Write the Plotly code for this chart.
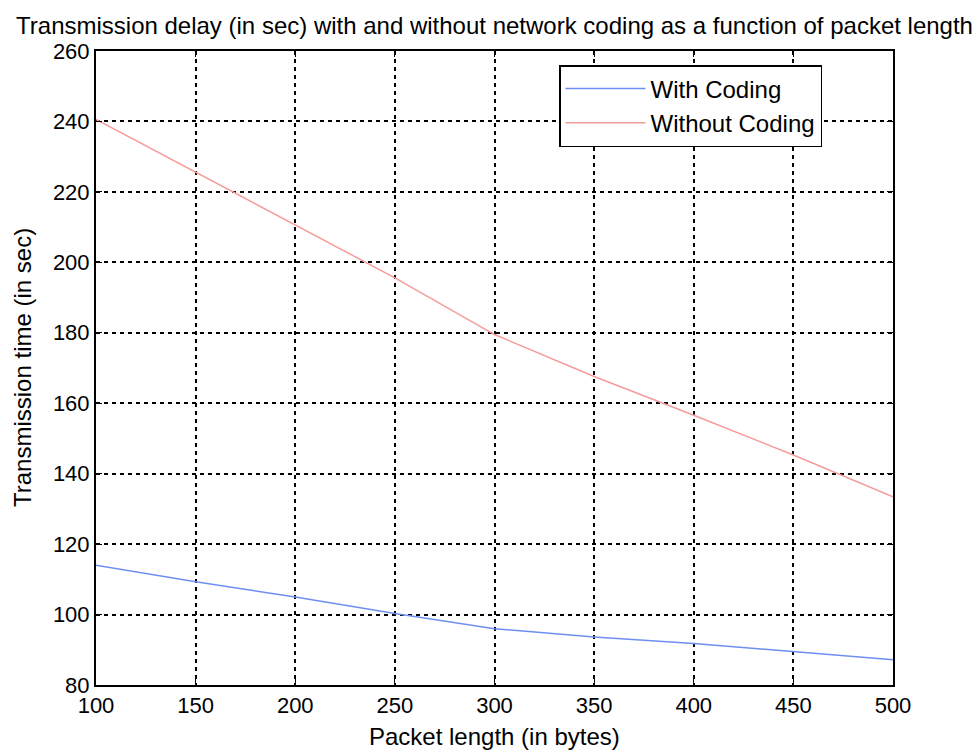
import plotly.graph_objects as go

packet_length = [100, 150, 200, 250, 300, 350, 400, 450, 500]
with_coding = [114.0, 109.3, 105.0, 100.3, 96.0, 93.6, 91.8, 89.4, 87.2]
without_coding = [240.6, 225.6, 210.6, 195.6, 179.5, 167.6, 156.6, 145.3, 133.4]

x_ticks = [100, 150, 200, 250, 300, 350, 400, 450, 500]
y_ticks = [80, 100, 120, 140, 160, 180, 200, 220, 240, 260]

FONT = "Liberation Sans, Arial, sans-serif"

fig = go.Figure()
fig.add_trace(go.Scatter(x=packet_length, y=with_coding, mode="lines", name="With Coding",
                         line=dict(color="#6e8ff0", width=1.5)))
fig.add_trace(go.Scatter(x=packet_length, y=without_coding, mode="lines", name="Without Coding",
                         line=dict(color="#f59b9b", width=1.5)))

axis_common = dict(
    showline=True, linecolor="black", linewidth=2, mirror="ticks",
    ticks="inside", ticklen=6, tickcolor="black",
    showgrid=True, gridcolor="black", griddash="4px,4px", gridwidth=1.5,
    zeroline=False, automargin=False,
    tickfont=dict(family=FONT, size=22, color="black"),
)

fig.update_layout(
    width=975, height=751,
    margin=dict(l=96, r=82, t=51, b=66),
    paper_bgcolor="white", plot_bgcolor="white",
    title=dict(text="Transmission delay (in sec) with and without network coding as a function of packet length",
               font=dict(family=FONT, size=24, color="black"),
               x=0.5, xanchor="center", xref="paper", y=1 - 17 / 751, yanchor="top"),
    xaxis=dict(axis_common, range=[100, 500], tickvals=x_ticks),
    yaxis=dict(axis_common, range=[80, 260], tickvals=y_ticks),
    annotations=[
        dict(text="Transmission time (in sec)", xref="paper", yref="paper",
             x=(22 - 96) / 797, y=0.5, xanchor="center", yanchor="middle",
             textangle=-90, showarrow=False,
             font=dict(family=FONT, size=24, color="black")),
        dict(text="Packet length (in bytes)", xref="paper", yref="paper",
             x=0.5, y=-(736 - 685) / 634, xanchor="center", yanchor="middle",
             showarrow=False, font=dict(family=FONT, size=24, color="black")),
    ],
    legend=dict(x=(559 - 96) / 797, y=1 - (65 - 51) / 634, xanchor="left", yanchor="top",
                bgcolor="white", bordercolor="black", borderwidth=1.5,
                font=dict(family=FONT, size=24, color="black"),
                itemwidth=80, tracegroupgap=0),
    showlegend=True,
)

fig.write_html("out.html")
